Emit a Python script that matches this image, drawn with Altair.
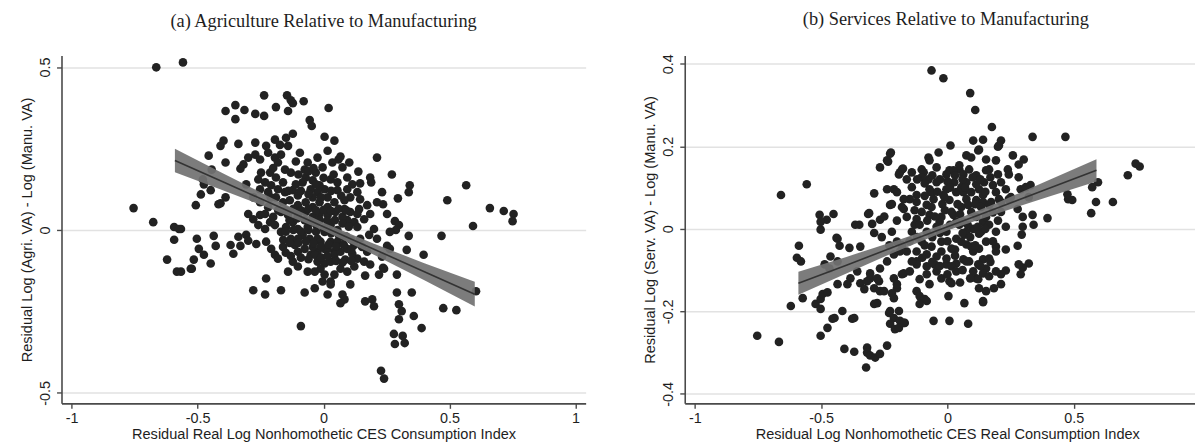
import altair as alt
import pandas as pd

# ---------------- data ----------------
PANEL_A_TITLE = "(a) Agriculture Relative to Manufacturing"
PANEL_B_TITLE = "(b) Services Relative to Manufacturing"
A_XTITLE = "Residual Real Log Nonhomothetic CES Consumption Index"
B_XTITLE = "Residual Log Nonhomothetic CES Real Consumption Index"
A_YTITLE = "Residual Log (Agri. VA) - Log (Manu. VA)"
B_YTITLE = "Residual Log (Serv. VA) - Log (Manu. VA)"

X_TICKS = [-1, -0.5, 0, 0.5, 1]
A_Y_TICKS = [-0.5, 0, 0.5]
B_Y_TICKS = [-0.4, -0.2, 0, 0.2, 0.4]

A_POINTS = [
    (-0.664, 0.499), (-0.558, 0.514), (-0.236, 0.413), (-0.145, 0.413), (-0.130, 0.398), (-0.079, 0.395),
    (-0.141, 0.365), (-0.350, 0.383), (-0.314, 0.368), (-0.350, 0.340), (-0.389, 0.365), (-0.271, 0.356),
    (-0.236, 0.350), (-0.189, 0.377), (-0.122, 0.389), (0.020, 0.374), (-0.055, 0.337), (-0.047, 0.319),
    (-0.122, 0.295), (0.004, 0.286), (0.043, 0.274), (-0.149, 0.283), (-0.173, 0.261), (-0.193, 0.277),
    (-0.397, 0.274), (-0.409, 0.258), (-0.338, 0.264), (-0.271, 0.268), (-0.228, 0.258), (-0.456, 0.228),
    (-0.389, 0.207), (-0.299, 0.222), (-0.271, 0.231), (-0.252, 0.216), (-0.318, 0.201), (-0.330, 0.188),
    (-0.220, 0.237), (-0.193, 0.222), (-0.169, 0.231), (-0.141, 0.258), (-0.181, 0.207), (-0.153, 0.185),
    (-0.130, 0.176), (-0.110, 0.210), (-0.075, 0.185), (-0.071, 0.161), (-0.212, 0.176), (-0.248, 0.176),
    (-0.259, 0.155), (-0.232, 0.146), (-0.208, 0.137), (-0.181, 0.125), (-0.153, 0.116), (-0.122, 0.122),
    (0.028, 0.155), (0.004, 0.125), (-0.024, 0.116), (-0.051, 0.125), (-0.307, 0.140), (-0.475, 0.140),
    (-0.487, 0.109), (-0.448, 0.122), (-0.507, 0.076), (-0.389, 0.100), (-0.409, 0.082), (-0.299, 0.049),
    (-0.279, 0.033), (-0.252, 0.046), (-0.232, 0.049), (-0.259, 0.015), (-0.232, 0.003), (-0.212, 0.024),
    (-0.193, 0.015), (-0.141, 0.046), (-0.122, 0.024), (-0.102, 0.003), (-0.083, -0.015), (-0.055, -0.027),
    (-0.024, -0.027), (0.004, -0.006), (0.028, 0.015), (-0.130, -0.027), (-0.114, -0.046), (-0.102, -0.067),
    (-0.075, -0.058), (-0.051, -0.076), (-0.024, -0.067), (0.004, -0.058), (0.028, -0.036), (0.043, -0.067),
    (-0.228, -0.036), (-0.208, -0.058), (-0.193, -0.076), (-0.181, -0.088), (-0.122, -0.097), (-0.035, -0.076),
    (-0.024, -0.097), (0.004, -0.103), (0.028, -0.097), (-0.012, -0.119), (-0.035, -0.128), (0.004, -0.137),
    (0.028, -0.158), (-0.004, -0.158), (-0.228, -0.149), (-0.279, -0.185), (-0.232, -0.198), (-0.169, -0.185),
    (-0.075, -0.192), (-0.035, -0.179), (0.016, -0.198), (-0.090, -0.295), (-0.566, 0.003), (-0.503, -0.027),
    (-0.436, -0.018), (-0.495, -0.058), (-0.428, -0.049), (-0.369, -0.046), (-0.338, -0.021), (-0.307, -0.015),
    (-0.330, -0.049), (-0.299, -0.033), (-0.267, -0.043), (-0.515, -0.091), (-0.527, -0.119), (-0.475, -0.076),
    (-0.448, -0.103), (-0.358, -0.073), (-0.566, -0.128), (-0.676, 0.024), (-0.593, 0.009), (-0.574, 0.003),
    (-0.593, -0.030), (-0.621, -0.091), (-0.582, -0.128), (-0.523, -0.119), (-0.754, 0.067), (-0.479, 0.155),
    (-0.444, 0.185), (-0.417, 0.079),
    (0.059, 0.216), (0.067, 0.225), (0.212, 0.222), (0.138, 0.179), (0.271, 0.170), (0.185, 0.161),
    (0.189, 0.146), (0.342, 0.137), (0.338, 0.116), (0.566, 0.137), (0.491, 0.091), (0.295, 0.097),
    (0.212, 0.085), (0.236, 0.079), (0.094, 0.125), (0.114, 0.140), (0.145, 0.143), (0.134, 0.116),
    (0.106, 0.100), (0.083, 0.091), (0.055, 0.122), (0.145, 0.094), (0.173, 0.076), (0.141, 0.064),
    (0.106, 0.055), (0.083, 0.064), (0.185, 0.049), (0.161, 0.033), (0.122, 0.024), (0.094, 0.030),
    (0.283, 0.027), (0.299, 0.015), (0.287, 0.000), (0.338, -0.018), (0.468, -0.018), (0.200, 0.003),
    (0.181, -0.015), (0.145, -0.027), (0.212, -0.027), (-0.012, -0.036), (0.016, -0.058), (0.043, -0.076),
    (0.067, -0.067), (0.094, -0.058), (0.122, -0.046), (0.252, -0.049), (0.263, -0.058), (0.330, -0.061),
    (0.397, -0.076), (0.134, -0.088), (0.161, -0.097), (0.185, -0.106), (0.122, -0.112), (0.094, -0.128),
    (0.067, -0.119), (0.043, -0.137), (0.240, -0.119), (0.220, -0.137), (0.165, -0.140), (0.291, -0.137),
    (0.106, -0.167), (0.028, -0.167), (0.075, -0.198), (0.083, -0.213), (0.067, -0.225), (0.165, -0.219),
    (0.193, -0.213), (0.200, -0.234), (0.291, -0.192), (0.350, -0.192), (0.299, -0.228), (0.310, -0.249),
    (0.299, -0.274), (0.358, -0.264), (0.389, -0.301), (0.475, -0.240), (0.527, -0.246), (0.660, 0.067),
    (0.715, 0.058), (0.754, 0.049), (0.750, 0.027), (0.593, 0.012), (0.605, -0.188), (0.279, -0.319),
    (0.314, -0.325), (0.283, -0.350), (0.322, -0.347), (0.228, -0.432), (0.240, -0.456), (0.236, -0.116),
    (-0.161, 0.085), (-0.134, 0.091), (-0.102, 0.076), (-0.071, 0.085), (-0.043, 0.070), (-0.016, 0.085),
    (0.016, 0.070), (0.043, 0.085), (-0.043, 0.100), (-0.102, 0.106), (-0.169, 0.055), (-0.102, 0.046),
    (-0.071, 0.055), (-0.043, 0.040), (-0.016, 0.049), (0.016, 0.046), (0.047, 0.055), (0.075, 0.040),
    (-0.169, -0.006), (-0.149, 0.009), (-0.063, 0.009), (-0.031, 0.018), (0.055, 0.000), (0.075, -0.021),
    (0.055, -0.036), (-0.043, -0.052), (-0.102, -0.027), (-0.161, -0.052), (-0.083, 0.146), (-0.043, 0.152),
    (-0.016, 0.137), (0.016, 0.100), (0.055, 0.146), (0.094, 0.161), (0.075, 0.192), (0.035, 0.207),
    (-0.004, 0.192), (-0.031, 0.176), (-0.094, 0.237), (-0.063, 0.207), (-0.024, 0.222), (0.016, 0.243),
    (0.102, 0.207), (0.134, 0.009), (0.153, -0.052), (0.173, -0.067), (0.114, -0.073), (0.086, -0.091),
    (0.232, -0.082), (-0.063, -0.128), (-0.102, -0.112), (-0.141, -0.128), (0.134, 0.049), (0.252, 0.049),
    (0.232, 0.116), (0.263, -0.006), (-0.279, 0.100), (-0.252, 0.085), (-0.220, 0.070), (-0.189, 0.100),
    (-0.220, 0.116), (-0.252, 0.125), (-0.161, 0.146), (-0.189, 0.161),
    (-0.150, 0.060), (-0.120, 0.065), (-0.090, 0.060), (-0.060, 0.065), (-0.030, 0.060), (0.000, 0.062),
    (0.030, 0.058), (0.060, 0.065), (0.090, 0.060), (-0.135, 0.030), (-0.105, 0.035), (-0.075, 0.030),
    (-0.045, 0.025), (-0.015, 0.030), (0.015, 0.028), (0.045, 0.030), (0.075, 0.020), (0.100, 0.010),
    (-0.150, -0.005), (-0.120, 0.000), (-0.090, -0.005), (-0.060, 0.000), (-0.030, -0.005), (0.000, 0.005),
    (0.030, -0.010), (0.060, -0.015), (0.090, -0.020), (0.110, -0.030), (-0.160, -0.030), (-0.135, -0.040),
    (-0.100, -0.040), (-0.070, -0.035), (-0.040, -0.040), (-0.010, -0.050), (0.020, -0.045), (0.050, -0.050),
    (0.080, -0.045), (0.110, -0.060), (-0.150, -0.070), (-0.130, -0.080), (-0.090, -0.085), (-0.060, -0.090),
    (-0.010, -0.085), (0.015, -0.080), (0.050, -0.095), (0.075, -0.100), (0.110, -0.095), (-0.140, 0.120),
    (-0.110, 0.140), (-0.090, 0.120), (-0.060, 0.110), (-0.030, 0.140), (-0.010, 0.100), (0.030, 0.120),
    (0.070, 0.105), (0.040, 0.170), (0.000, 0.160), (-0.040, 0.190), (-0.100, 0.170), (-0.060, 0.180),
    (-0.200, 0.190), (-0.180, 0.060), (-0.210, 0.100), (-0.200, 0.040),
]

B_POINTS = [
    (-0.063, 0.384), (-0.016, 0.365), (0.090, 0.329), (0.110, 0.288), (0.176, 0.247), (0.337, 0.223),
    (0.467, 0.223), (0.012, 0.202), (0.102, 0.214), (0.141, 0.216), (0.212, 0.214), (0.200, 0.199),
    (0.122, 0.190), (-0.035, 0.185), (-0.075, 0.173), (-0.071, 0.166), (-0.102, 0.144), (0.259, 0.178),
    (0.302, 0.168), (0.282, 0.156), (0.075, 0.178), (0.094, 0.173), (0.153, 0.168), (0.192, 0.166),
    (-0.180, 0.144), (-0.094, 0.137), (-0.043, 0.149), (0.047, 0.144), (0.063, 0.132), (0.165, 0.144),
    (0.239, 0.144), (0.243, 0.132), (0.282, 0.125), (0.008, 0.142), (0.114, 0.130), (-0.161, 0.120),
    (-0.075, 0.120), (0.761, 0.151), (0.745, 0.158), (0.714, 0.130), (0.596, 0.113), (0.573, 0.101),
    (0.478, 0.072), (0.588, 0.065), (0.655, 0.065), (0.569, 0.038), (0.329, 0.106), (0.298, 0.029),
    (0.337, 0.034), (0.341, 0.010), (0.396, 0.026), (0.298, 0.005), (0.294, -0.014), (0.278, 0.048),
    (0.243, 0.072), (0.231, 0.096), (0.180, 0.106), (0.192, 0.089), (0.204, 0.072), (0.125, 0.096),
    (0.141, 0.082), (0.114, 0.070), (0.063, 0.089), (0.075, 0.072), (0.082, 0.058), (-0.004, 0.096),
    (-0.016, 0.082), (0.008, 0.070), (-0.071, 0.096), (-0.055, 0.072), (-0.082, 0.058), (-0.122, 0.082),
    (-0.149, 0.072), (-0.173, 0.048), (-0.122, 0.024), (-0.071, 0.034), (-0.031, 0.017), (0.024, 0.034),
    (0.063, 0.017), (0.102, 0.000), (0.141, 0.017), (0.165, 0.010), (0.125, -0.012), (0.067, -0.014),
    (-0.659, 0.082), (-0.557, 0.108), (-0.506, 0.034), (-0.478, 0.022), (-0.451, 0.036), (-0.502, -0.002),
    (-0.439, -0.022), (-0.349, 0.010), (-0.314, 0.036), (-0.290, 0.086), (-0.267, 0.149), (-0.235, 0.163),
    (-0.224, 0.185), (-0.188, 0.137), (-0.176, 0.146), (-0.239, 0.096), (-0.212, 0.096), (-0.298, 0.012),
    (-0.267, 0.022), (-0.227, 0.058), (-0.227, 0.182), (-0.239, 0.166), (-0.192, 0.132), (-0.200, 0.089),
    (-0.173, 0.072), (-0.220, 0.060), (-0.310, 0.038), (-0.435, -0.024), (-0.427, -0.041), (-0.388, -0.046),
    (-0.345, -0.043), (-0.463, -0.067), (-0.486, -0.086), (-0.467, -0.096), (-0.384, -0.120), (-0.345, -0.132),
    (-0.396, -0.134), (-0.306, -0.120), (-0.290, -0.144), (-0.267, -0.151), (-0.271, -0.127), (-0.212, -0.120),
    (-0.200, -0.144), (-0.220, -0.156), (-0.278, -0.180), (-0.416, -0.199), (-0.377, -0.218), (-0.455, -0.218),
    (-0.475, -0.240), (-0.502, -0.259), (-0.231, -0.204), (-0.212, -0.216), (-0.227, -0.230), (-0.208, -0.243),
    (-0.169, -0.228), (-0.122, -0.151), (-0.110, -0.163), (-0.090, -0.170), (-0.055, -0.223), (0.008, -0.223),
    (-0.408, -0.291), (-0.318, -0.288), (-0.239, -0.283), (0.008, -0.127), (-0.024, -0.120), (-0.588, -0.041),
    (-0.596, -0.070), (-0.580, -0.079), (-0.573, -0.168), (-0.620, -0.187), (-0.522, -0.182), (-0.502, -0.170),
    (-0.494, -0.158), (-0.475, -0.154), (-0.502, -0.194), (-0.447, -0.216), (-0.369, -0.216), (-0.435, -0.079),
    (-0.435, -0.134), (-0.357, -0.103), (-0.318, -0.127), (-0.329, -0.146), (-0.290, -0.182), (-0.306, -0.108),
    (-0.369, -0.298), (-0.318, -0.300), (-0.306, -0.307), (-0.286, -0.312), (-0.322, -0.336), (-0.267, -0.303),
    (-0.753, -0.259), (-0.667, -0.274), (-0.502, 0.017), (-0.365, 0.010), (-0.251, -0.151), (-0.212, -0.168),
    (-0.227, -0.199), (-0.188, -0.223), (-0.200, -0.134), (-0.173, -0.108), (-0.278, -0.120), (-0.267, -0.096),
    (-0.239, -0.079), (-0.212, -0.062), (-0.188, -0.055), (-0.082, -0.175), (-0.071, -0.134), (-0.051, -0.086),
    (-0.122, -0.079), (-0.082, -0.062),
    (0.278, -0.041), (0.231, -0.050), (0.192, -0.043), (0.322, -0.084), (0.298, -0.094), (0.290, -0.110),
    (0.231, -0.101), (0.212, -0.110), (0.141, -0.074), (0.122, -0.086), (0.165, -0.072), (0.153, -0.096),
    (0.114, -0.120), (0.125, -0.144), (0.153, -0.151), (0.141, -0.178), (0.184, -0.144), (0.067, -0.180),
    (0.016, -0.132), (0.004, -0.163), (0.082, -0.230), (-0.173, -0.228), (-0.192, -0.240), (-0.110, -0.182),
    (-0.043, -0.103), (-0.082, -0.110), (-0.110, -0.122), (-0.122, -0.086), (-0.149, -0.103), (-0.180, -0.110),
    (-0.192, -0.199), (-0.004, -0.086), (0.035, -0.084), (0.063, -0.074), (0.086, -0.079), (0.125, 0.192),
    (0.204, 0.202), (0.024, 0.142), (0.047, 0.154), (0.086, 0.144), (0.153, 0.142), (0.200, 0.132),
    (0.212, 0.113), (0.145, 0.113), (0.114, 0.108), (0.075, 0.113), (0.035, 0.089), (0.141, 0.065),
    (0.165, 0.058), (0.290, 0.096), (0.310, 0.101), (0.322, 0.077), (0.125, -0.048), (0.047, 0.010),
    (0.075, -0.007), (0.035, -0.024), (0.075, -0.038), (0.102, -0.055), (0.016, -0.048), (-0.004, -0.072),
    (0.102, -0.103), (0.141, -0.108), (0.165, -0.115), (0.192, -0.103), (0.122, -0.122), (0.212, -0.134),
    (0.282, -0.086), (0.141, -0.175), (0.475, 0.084), (0.494, 0.070),
    (-0.141, 0.101), (-0.122, 0.065), (-0.102, 0.041), (-0.063, 0.053), (-0.024, 0.029), (0.016, 0.041),
    (0.035, 0.017), (0.055, 0.053), (0.094, 0.041), (0.133, 0.053), (0.153, 0.029), (0.173, 0.065),
    (0.212, 0.041), (-0.043, 0.005), (-0.004, -0.007), (-0.082, -0.007), (-0.024, -0.031), (-0.063, -0.043),
    (-0.102, -0.031), (-0.141, -0.007), (-0.161, 0.029), (-0.122, -0.055), (-0.043, -0.067), (0.016, -0.091),
    (0.055, -0.031), (0.094, -0.043), (0.153, -0.031), (0.192, -0.007), (0.231, 0.005), (0.133, -0.007),
    (-0.180, 0.053), (-0.200, -0.031), (-0.220, -0.007), (-0.161, -0.055), (-0.012, 0.077), (0.027, 0.113),
    (0.055, 0.101), (0.094, 0.089), (-0.043, 0.113), (-0.102, 0.125), (-0.141, 0.137), (-0.004, 0.132),
    (0.251, 0.077), (0.212, 0.065), (0.192, -0.055), (-0.024, -0.055), (-0.082, -0.091), (-0.141, -0.079),
    (0.035, -0.103), (0.075, -0.079), (0.114, 0.029), (-0.063, 0.089), (-0.290, -0.010), (-0.260, -0.020),
    (-0.250, 0.030), (-0.200, 0.020), (-0.180, -0.040), (-0.230, -0.040), (-0.150, -0.030), (-0.130, 0.010),
    (-0.120, 0.120), (-0.090, 0.110), (-0.060, 0.130), (-0.030, 0.120), (0.000, 0.115), (0.030, 0.130),
    (0.060, 0.120), (0.100, 0.125), (0.130, 0.120), (0.170, 0.125), (-0.130, 0.045), (-0.090, 0.080),
    (-0.040, 0.090), (-0.020, 0.060), (0.010, 0.100), (0.040, 0.060), (0.070, 0.100), (0.110, 0.060),
    (0.150, 0.090), (0.180, 0.040), (-0.110, 0.010), (-0.080, 0.020), (-0.050, 0.030), (-0.010, 0.045),
    (0.010, 0.010), (0.050, 0.035), (0.080, 0.010), (0.120, 0.005), (0.150, 0.000), (0.200, 0.020),
    (-0.120, -0.020), (-0.090, -0.040), (-0.060, -0.020), (-0.030, -0.010), (0.000, -0.030), (0.030, -0.050),
    (0.060, -0.010), (0.090, -0.020), (0.110, -0.040), (0.180, -0.030), (-0.100, -0.070), (-0.060, -0.080),
    (-0.030, -0.090), (0.000, -0.110), (0.030, -0.065), (0.060, -0.100), (0.090, -0.120), (0.130, -0.090),
    (0.170, -0.080), (0.050, -0.130),
]

# fitted line with its confidence band
A_FIT_X = [-0.59, -0.4, -0.2, 0.0, 0.2, 0.4, 0.6]
A_FIT_Y = [0.213, 0.148, 0.079, 0.010, -0.059, -0.128, -0.197]
A_FIT_LO = [0.177, 0.122, 0.062, -0.002, -0.076, -0.154, -0.235]
A_FIT_HI = [0.249, 0.174, 0.096, 0.022, -0.042, -0.102, -0.159]

B_FIT_X = [-0.59, -0.4, -0.2, 0.0, 0.2, 0.4, 0.59]
B_FIT_Y = [-0.132, -0.088, -0.041, 0.005, 0.051, 0.098, 0.142]
B_FIT_LO = [-0.160, -0.108, -0.054, -0.004, 0.038, 0.078, 0.115]
B_FIT_HI = [-0.104, -0.068, -0.028, 0.014, 0.064, 0.118, 0.169]

TEXT = "#1e1e1e"
AXIS = "#4a4a4a"


def panel(points, fx, fy, flo, fhi, title, xtitle, ytitle, xdom, ydom, yticks, width, title_dx, xtitle_x):
    pts = pd.DataFrame(points, columns=["x", "y"])
    fit = pd.DataFrame({"x": fx, "y": fy, "lo": flo, "hi": fhi})
    xs = alt.Scale(domain=xdom, nice=False, zero=False)
    ys = alt.Scale(domain=ydom, nice=False, zero=False)
    xaxis = alt.Axis(values=X_TICKS, labelExpr="toString(datum.value)", title=xtitle, grid=False,
                     tickSize=5, labelPadding=3, titlePadding=2, titleX=xtitle_x, labelFlush=False)
    yaxis = alt.Axis(values=yticks, labelExpr="toString(datum.value)", title=ytitle, grid=True,
                     labelAngle=270, titleAngle=270, titleX=-34, titleBaseline="middle",
                     tickSize=5, labelPadding=4, labelFlush=False)
    x_enc = alt.X("x:Q", scale=xs, axis=xaxis)
    scatter = alt.Chart(pts).mark_circle(size=76, color="#222222", opacity=1).encode(
        x=x_enc, y=alt.Y("y:Q", scale=ys, axis=yaxis))
    band = alt.Chart(fit).mark_area(color="#727272", opacity=0.93).encode(
        x=x_enc, y=alt.Y("lo:Q", scale=ys, axis=yaxis), y2="hi:Q")
    line = alt.Chart(fit).mark_line(color="#333333", strokeWidth=1.6).encode(
        x=x_enc, y=alt.Y("y:Q", scale=ys, axis=yaxis))
    return alt.layer(scatter, band, line).properties(
        width=width, height=351, title=alt.TitleParams(title, dx=title_dx))


a = panel(A_POINTS, A_FIT_X, A_FIT_Y, A_FIT_LO, A_FIT_HI, PANEL_A_TITLE, A_XTITLE, A_YTITLE,
          [-1.04, 1.04], [-0.532, 0.535], A_Y_TICKS, 529, 0, 264.5)
b = panel(B_POINTS, B_FIT_X, B_FIT_Y, B_FIT_LO, B_FIT_HI, PANEL_B_TITLE, B_XTITLE, B_YTITLE,
          [-1.04, 0.98], [-0.423, 0.42], B_Y_TICKS, 515, 6, 265)

chart = alt.hconcat(a, b, spacing=57).properties(
    padding={"left": 11, "top": 0, "right": 0, "bottom": 0}
).configure_view(strokeWidth=0).configure_axis(
    labelFont="Liberation Sans", titleFont="Liberation Sans", labelFontSize=14.5, titleFontSize=14.7,
    labelColor=TEXT, titleColor=TEXT, titleFontWeight="normal",
    domainColor=AXIS, domainWidth=1.6, tickColor=AXIS, tickWidth=1.4,
    gridColor="#e2e2e2", gridWidth=1.6,
).configure_title(
    font="Liberation Serif", fontSize=18.5, fontWeight="normal", color=TEXT, anchor="middle", offset=25.5
)

chart.save("out.html", embed_options={"renderer": "svg", "actions": False})
